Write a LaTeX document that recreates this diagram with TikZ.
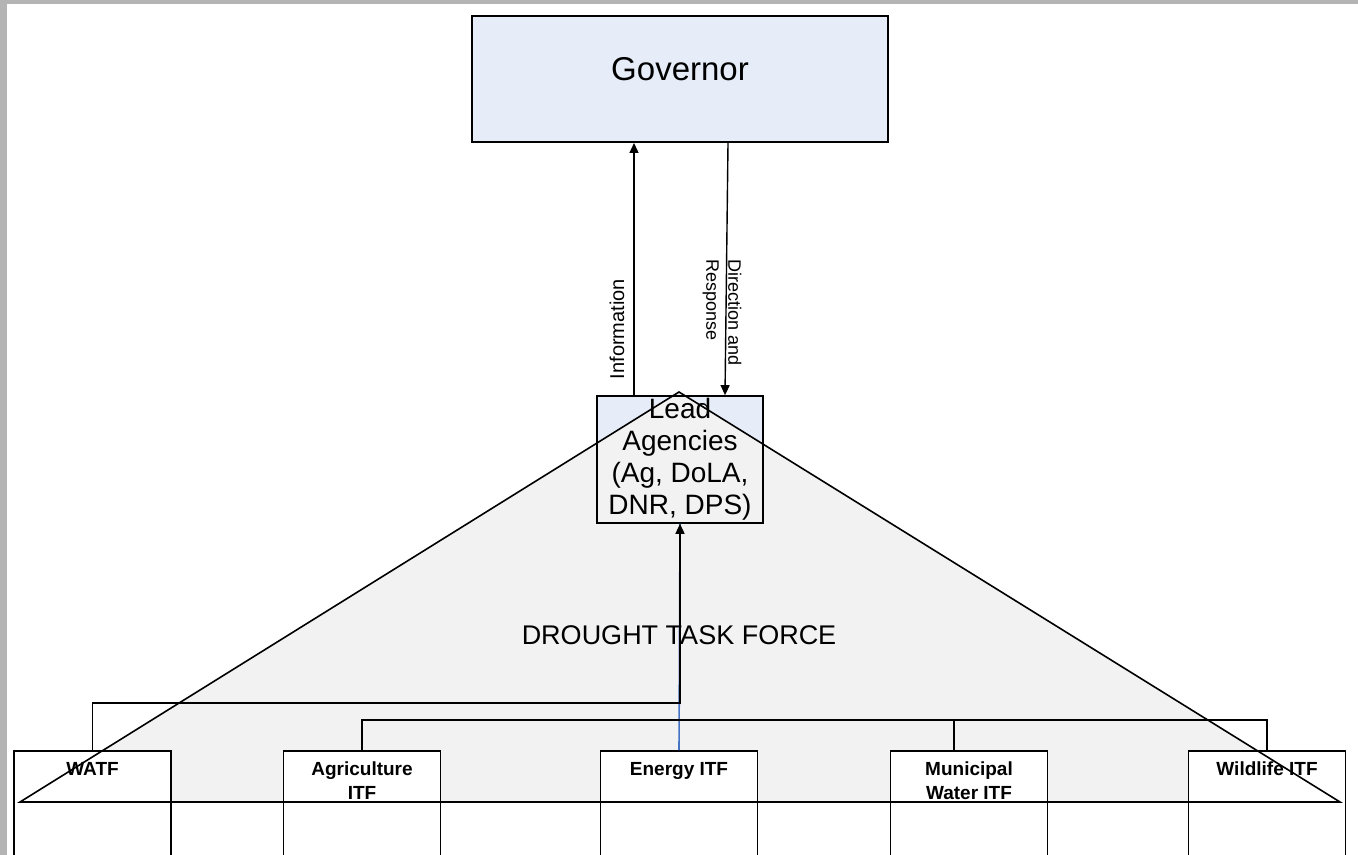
\documentclass[tikz,border=0pt]{standalone}
\usepackage{fontspec}
\setmainfont{Liberation Sans}
\usepackage{tikz}
\usetikzlibrary{arrows.meta}

\definecolor{boxblue}{HTML}{E7EDF8}
\definecolor{taskgray}{HTML}{F2F2F2}
\definecolor{framegray}{HTML}{B4B4B4}
\definecolor{linkblue}{HTML}{4472C4}

\begin{document}
\begin{tikzpicture}[x=0.5pt, y=-0.5pt,
  govbox/.style={draw, line width=1pt, fill=boxblue, minimum width=208pt, minimum height=63pt, inner sep=0pt},
  leadbox/.style={draw, line width=0.8pt, minimum width=83pt, minimum height=63.5pt, inner sep=0pt},
  itfbox/.style={draw, line width=0.8pt, fill=white, minimum width=78.5pt, minimum height=65pt, anchor=north, inner sep=0pt},
  itftext/.style={anchor=base, inner sep=0pt, yshift=-12.5pt, align=center, font=\fontsize{9.5}{12}\selectfont\bfseries},
  itftwo/.style={itftext, yshift=-12pt},
  link/.style={line width=0.8pt},
  flow/.style={line width=0.7pt, -{Triangle[length=5pt,width=4.5pt]}}]
  \useasboundingbox (0,0) rectangle (1358,855);
  \clip (0,0) rectangle (1358,855);
  \fill[white] (0,0) rectangle (1358,855);
  \fill[framegray] (0,0) rectangle (7,855);
  \fill[framegray] (0,0) rectangle (1358,4);

  \coordinate (top) at (679,392);
  \coordinate (bl) at (20,802);
  \coordinate (br) at (1340,802);

  % lead agencies, under the task force
  \node[leadbox, fill=boxblue] (lead) at (680,459.5) {};
  \fill[taskgray] (top) -- (bl) -- (br) -- cycle;
  \node[leadbox, align=center, font=\fontsize{14}{16}\selectfont] (leadtext) at (lead) {Lead\\Agencies\\(Ag, DoLA,\\DNR, DPS)};
  \node[font=\fontsize{13.5}{16}\selectfont] (dtf) at (679,635) {DROUGHT TASK FORCE};

  \node[itfbox, label={[itftext]north:WATF}] (watf) at (92.5,750) {};
  \node[itfbox, label={[itftwo]north:Agriculture\\ITF}] (agri) at (362,750) {};
  \node[itfbox, label={[itftext]north:Energy ITF}] (energy) at (679,750) {};
  \node[itfbox, label={[itftwo]north:Municipal\\Water ITF}] (muni) at (969,750) {};
  \node[itfbox, label={[itftext]north:Wildlife ITF}] (wild) at (1267,750) {};

  \draw[link, draw=linkblue] (energy.north) -- (lead.south);
  \draw[link] (agri.north) -- ++(0,-30) -| (wild.north);
  \draw[link] ([xshift=-7.5pt]muni.north) -- ++(0,-30);
  \draw[flow] (watf.north) -- ++(0,-47) -| (lead.south);

  \draw[line width=0.8pt] (top) -- (bl) -- (br) -- cycle;

  \node[govbox] (gov) at (680,79) {};
  \node[font=\fontsize{16.5}{20}\selectfont] (govtext) at (680,69) {Governor};

  \draw[flow] ([xshift=-23pt]lead.north) -- ([xshift=-23pt]gov.south);
  \draw[flow] ([xshift=24pt]gov.south) -- ([xshift=22.5pt]lead.north);
  \node[rotate=90, font=\fontsize{10}{12}\selectfont] (info) at (617,329) {Information};
  \node[rotate=-90, align=left, font=\fontsize{9}{11}\selectfont] (dirresp) at (722,313) {Direction and\\Response};
\end{tikzpicture}
\end{document}
